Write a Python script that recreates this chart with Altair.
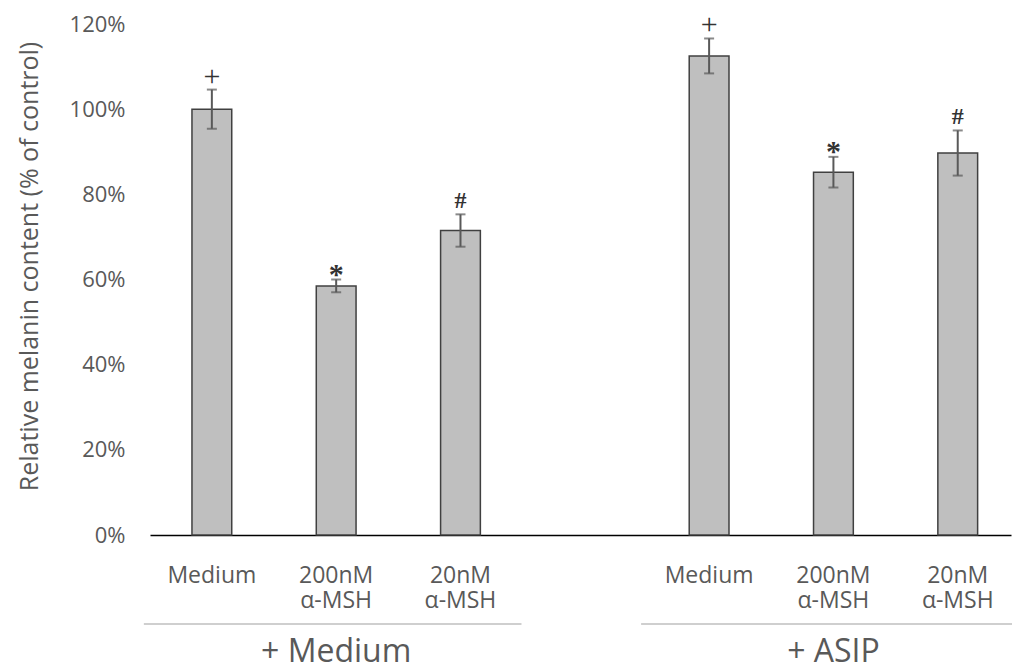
import altair as alt
import pandas as pd

# ---- data ----
groups = ["+ Medium", "+ ASIP"]
treatments = ["Medium", "200nM\nα-MSH", "20nM\nα-MSH"]
means = [100.0, 58.5, 71.5, 112.5, 85.2, 89.7]      # % of control
errors = [4.6, 1.5, 3.8, 4.1, 3.6, 5.3]             # +/- error
sig_marks = ["+", "*", "#", "+", "*", "#"]
y_ticks = [0, 0.2, 0.4, 0.6, 0.8, 1.0, 1.2]

rows = []
i = 0
for g in groups:
    for t in treatments:
        rows.append(dict(key=f"{g}|{t}", group=g, treatment=t,
                         mean=means[i] / 100,
                         lo=(means[i] - errors[i]) / 100,
                         hi=(means[i] + errors[i]) / 100,
                         sig=sig_marks[i]))
        i += 1
df = pd.DataFrame(rows)

keys = list(df["key"])
domain = keys[:3] + ["gap"] + keys[3:]

gdf = pd.DataFrame({
    "group": groups,
    "first": [keys[0], keys[3]],
    "mid": [keys[1], keys[4]],
    "last": [keys[2], keys[5]],
})

W, H = 861, 511
FONT = "Open Sans"
GREY = "#595959"

xs = alt.Scale(domain=domain, paddingInner=0.68, paddingOuter=0.303, align=0.557)
x_axis = alt.Axis(labels=False, ticks=False, title=None, domainColor="#000000",
                  domainWidth=1.5, grid=False)
ys = alt.Scale(domain=[0, 1.2], nice=False)
y_axis = alt.Axis(format=".0%", values=y_ticks, grid=False, domain=False, ticks=False,
                  labelFont=FONT, labelFontSize=22, labelColor=GREY, labelPadding=25,
                  title="Relative melanin content (% of control)",
                  titleFont=FONT, titleFontSize=25, titleFontWeight="normal",
                  titleColor=GREY, titleX=-121, titleY=242, titleAngle=270,
                  titleBaseline="middle", titleAlign="center")

X = alt.X("key:N", scale=xs, axis=x_axis)

bars = alt.Chart(df).mark_bar(color="#bfbfbf", stroke="#404040", strokeWidth=1.5).encode(
    x=X, y=alt.Y("mean:Q", scale=ys, axis=y_axis))

err = alt.Chart(df).mark_rule(color=GREY, strokeWidth=2).encode(
    x=X, y=alt.Y("lo:Q", scale=ys, axis=y_axis), y2="hi:Q")
cap_hi = alt.Chart(df).mark_tick(color=GREY, thickness=2, size=10).encode(
    x=X, y=alt.Y("hi:Q", scale=ys, axis=y_axis))
cap_lo = alt.Chart(df).mark_tick(color=GREY, thickness=2, size=10).encode(
    x=X, y=alt.Y("lo:Q", scale=ys, axis=y_axis))

def sig_layer(sym, dy, weight, size):
    return alt.Chart(df).transform_filter(alt.datum.sig == sym).mark_text(
        font="Liberation Serif", fontSize=size, fontWeight=weight, color="#333333",
        baseline="alphabetic", dy=dy).encode(
        x=X, y=alt.Y("hi:Q", scale=ys, axis=y_axis), text="sig:N")

plus = sig_layer("+", -4, "normal", 30)
star = sig_layer("*", 4, "bold", 30)
hash_ = sig_layer("#", -6, "bold", 24)

cat_labels = alt.Chart(df).mark_text(
    font=FONT, fontSize=23, color=GREY, lineBreak="\n", lineHeight=25,
    baseline="alphabetic", align="center").encode(
    x=X, y=alt.value(H + 48), text="treatment:N")

underline = alt.Chart(gdf).mark_rule(color="#bfbfbf", strokeWidth=1.5,
                                     xOffset=-68, x2Offset=61).encode(
    x=alt.X("first:N", scale=xs, axis=x_axis),
    x2=alt.X2("last:N"),
    y=alt.value(H + 89))

group_titles = alt.Chart(gdf).mark_text(
    font=FONT, fontSize=32, color=GREY, baseline="alphabetic").encode(
    x=alt.X("mid:N", scale=xs, axis=x_axis), y=alt.value(H + 127), text="group:N")

chart = alt.layer(bars, err, cap_hi, cap_lo, plus, star, hash_,
                  cat_labels, underline, group_titles).properties(
    width=W, height=H,
    padding={"left": 142, "top": 16, "right": 1, "bottom": 136},
    autosize=alt.AutoSizeParams(type="none"),
).configure_view(stroke=None)

chart.save("out.html", embed_options={"renderer": "svg", "actions": False})
